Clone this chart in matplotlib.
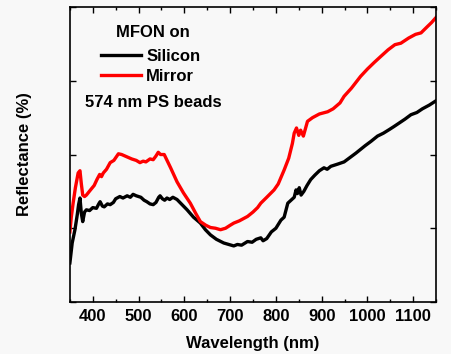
import matplotlib
matplotlib.use("Agg")
import matplotlib.pyplot as plt
from matplotlib.ticker import MultipleLocator

plt.rcParams['font.family'] = ['Liberation Sans', 'DejaVu Sans']
plt.rcParams['font.weight'] = 'bold'

# Wavelength (nm) / reflectance (arb. units, 4 divisions on the axis)
si_wl = [350, 355, 361, 366, 369, 372, 375, 378, 382, 386, 393, 400, 408, 413, 416,
         421, 425, 432, 438, 445, 450, 459, 466, 475, 482, 488, 495, 505, 512, 518,
         525, 532, 538, 544, 547, 552, 557, 562, 568, 575, 584, 595, 606, 620, 635,
         646, 657, 670, 686, 697, 708, 716, 725, 738, 748, 757, 767, 772, 780, 790,
         800, 811, 818, 826, 833, 840, 844, 847, 851, 855, 861, 868, 876, 885, 895,
         905, 912, 920, 935, 949, 962, 975, 985, 995, 1008, 1022, 1035, 1048, 1058,
         1070, 1082, 1095, 1108, 1120, 1135, 1150]
si_r = [0.53, 0.80, 0.98, 1.18, 1.32, 1.41, 1.20, 1.09, 1.22, 1.25, 1.24, 1.28, 1.27,
        1.33, 1.36, 1.30, 1.29, 1.33, 1.32, 1.35, 1.40, 1.43, 1.41, 1.44, 1.42, 1.46,
        1.44, 1.42, 1.38, 1.36, 1.33, 1.32, 1.35, 1.42, 1.44, 1.40, 1.38, 1.41, 1.39,
        1.42, 1.39, 1.32, 1.25, 1.15, 1.07, 0.98, 0.91, 0.85, 0.80, 0.78, 0.76, 0.78,
        0.77, 0.82, 0.81, 0.85, 0.87, 0.83, 0.86, 0.95, 1.00, 1.11, 1.15, 1.34, 1.38,
        1.42, 1.52, 1.47, 1.55, 1.45, 1.50, 1.58, 1.66, 1.72, 1.78, 1.82, 1.80, 1.84,
        1.87, 1.90, 1.96, 2.02, 2.07, 2.12, 2.18, 2.25, 2.29, 2.34, 2.38, 2.43, 2.48,
        2.54, 2.57, 2.62, 2.67, 2.73]

mi_wl = [350, 353, 357, 362, 368, 372, 375, 378, 382, 386, 395, 403, 409, 415, 419,
         423, 430, 438, 446, 456, 463, 474, 485, 495, 503, 510, 516, 525, 532, 538,
         543, 548, 556, 570, 584, 598, 613, 625, 635, 647, 657, 668, 679, 690, 700,
         708, 720, 738, 750, 760, 767, 780, 796, 805, 818, 828, 836, 840, 845, 850,
         854, 860, 869, 880, 895, 913, 925, 940, 949, 965, 985, 1000, 1015, 1029, 1045,
         1060, 1073, 1090, 1105, 1117, 1130, 1140, 1150]
mi_r = [0.95, 1.15, 1.34, 1.55, 1.75, 1.78, 1.60, 1.45, 1.43, 1.45, 1.52, 1.58, 1.66,
        1.73, 1.70, 1.75, 1.80, 1.89, 1.92, 2.01, 2.00, 1.97, 1.94, 1.92, 1.89, 1.91,
        1.90, 1.94, 1.93, 1.98, 2.03, 2.00, 2.00, 1.82, 1.63, 1.48, 1.34, 1.20, 1.09,
        1.04, 1.01, 1.00, 0.98, 1.00, 1.04, 1.07, 1.10, 1.16, 1.22, 1.28, 1.34, 1.42,
        1.52, 1.60, 1.79, 1.95, 2.15, 2.29, 2.36, 2.26, 2.33, 2.25, 2.45, 2.50, 2.55,
        2.58, 2.62, 2.70, 2.79, 2.90, 3.06, 3.16, 3.25, 3.33, 3.42, 3.49, 3.51, 3.58,
        3.63, 3.65, 3.73, 3.79, 3.86]

fig = plt.figure(figsize=(4.51, 3.54), dpi=100)
fig.patch.set_facecolor('#f8f8f8')
ax = fig.add_axes([0.155, 0.147, 0.812, 0.833])
ax.set_facecolor('#f8f8f8')

ax.plot(si_wl, si_r, color='black', lw=2.4, label='Silicon')
ax.plot(mi_wl, mi_r, color='#ff0000', lw=2.4, label='Mirror')

ax.set_xlim(350, 1150)
ax.set_ylim(0, 4)
ax.xaxis.set_major_locator(MultipleLocator(100))
ax.xaxis.set_minor_locator(MultipleLocator(50))
ax.yaxis.set_major_locator(MultipleLocator(1))
ax.set_yticklabels([])
ax.tick_params(axis='both', which='both', direction='in', top=True, right=True)
ax.tick_params(axis='x', which='major', length=4, width=1, labelsize=12, pad=5)
ax.tick_params(axis='x', which='minor', length=2, width=1)
ax.tick_params(axis='y', which='major', length=4, width=1)
for sp in ax.spines.values():
    sp.set_linewidth(1.2)

ax.set_xlabel('Wavelength (nm)', fontsize=12, fontweight='bold', labelpad=9)
ax.set_ylabel('Reflectance (%)', fontsize=12, fontweight='bold', labelpad=24)

leg = ax.legend(loc='upper left', bbox_to_anchor=(0.085, 0.858), frameon=False,
                fontsize=12, handlelength=2.4, handletextpad=0.3, labelspacing=0.32,
                borderaxespad=0, borderpad=0)
ax.text(0.126, 0.915, 'MFON on', transform=ax.transAxes, fontsize=12,
        fontweight='bold', va='center')
ax.text(0.041, 0.678, '574 nm PS beads', transform=ax.transAxes, fontsize=12,
        fontweight='bold', va='center')

fig.savefig('out.png', dpi=100, facecolor=fig.get_facecolor())
